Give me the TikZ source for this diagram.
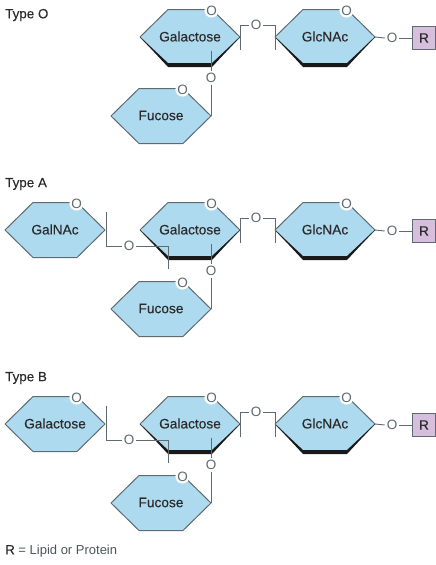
\documentclass[tikz,border=0pt]{standalone}
\usepackage{fontspec}
\setmainfont{Liberation Sans}
\newfontfamily\medfont[FakeBold=0.25]{Liberation Sans}
\usetikzlibrary{calc}
\definecolor{hexblue}{HTML}{AEDAEF}
\definecolor{edgegray}{HTML}{5F6B70}
\definecolor{rpurple}{HTML}{D6BEDC}
\definecolor{inkc}{HTML}{2B2B2B}
\tikzset{
  x=1pt,y=-1pt,
  hexshape/.style={fill=hexblue,draw=edgegray,line width=1pt,line join=round},
  sugar/.style={inner sep=0pt,text=inkc,font=\medfont\fontsize{13.7}{15}\selectfont},
  oxy/.style={circle,fill=white,inner sep=0pt,minimum size=13pt,text=edgegray,font=\fontsize{13.5}{15}\selectfont},
  oxyring/.style={oxy,minimum size=14pt},
  bond/.style={draw=edgegray,line width=0.9pt},
  rbox/.style={fill=rpurple,draw=edgegray,line width=1pt,minimum width=23pt,minimum height=23pt,inner sep=0pt,text=inkc,font=\medfont\fontsize{13.5}{15}\selectfont},
  typelabel/.style={anchor=west,inner sep=0pt,text=inkc,font=\medfont\fontsize{13.4}{15}\selectfont},
  legendlabel/.style={anchor=west,inner sep=0pt,text=edgegray!80!black,font=\fontsize{13}{15}\selectfont},
}
% name, centre x, centre y, text
\newcommand{\hexa}[4]{%
  \coordinate (#1-c) at (#2,#3);
  \coordinate (#1-l) at ($(#1-c)+(-50,0)$);
  \coordinate (#1-r) at ($(#1-c)+(50,0)$);
  \coordinate (#1-tl) at ($(#1-c)+(-22,-27.5)$);
  \coordinate (#1-tr) at ($(#1-c)+(22,-27.5)$);
  \coordinate (#1-bl) at ($(#1-c)+(-22,27.5)$);
  \coordinate (#1-br) at ($(#1-c)+(22,27.5)$);
  \path[hexshape] (#1-l)--(#1-tl)--(#1-tr)--(#1-r)--(#1-br)--(#1-bl)--cycle;
  \node[sugar] (#1) at ($(#1-c)+(0,-0.5)$) {#4};
  \node[oxyring] (#1-o) at ($(#1-c)+(21.5,-26.5)$) {O};
}
% thick lower rim
\newcommand{\rim}[1]{%
  \fill[black!90] (#1-l) -- ($(#1-bl)+(0,-1.5)$) -- ($(#1-br)+(0,-1.5)$) -- (#1-r)
     -- ($(#1-br)+(0,2.5)$) -- ($(#1-bl)+(0,2.5)$) -- cycle;
}
% prefix, vertical offset
\newcommand{\core}[2]{%
  \hexa{#1fuc}{161}{\the\numexpr116+#2\relax}{Fucose}
  \hexa{#1gal}{190}{\the\numexpr37+#2\relax}{Galactose}
  \rim{#1gal}
  \hexa{#1glc}{325}{\the\numexpr37+#2\relax}{GlcNAc}
  \rim{#1glc}
  \node[oxy] (#1o1) at (256,\the\numexpr25+#2\relax) {O};
  \node[oxy] (#1o2) at (392,\the\numexpr38+#2\relax) {O};
  \node[oxy] (#1o3) at (211,\the\numexpr78+#2\relax) {O};
  \node[rbox] (#1r) at (424,\the\numexpr38+#2\relax) {R};
  \coordinate (#1b1) at ($(#1gal-r)+(0,13)$);
  \coordinate (#1b2) at ($(#1glc-l)+(0,13)$);
  \draw[bond] (#1b1) -- ++(0,-25) -- (#1o1.west);
  \draw[bond] (#1o1.east) -- (#1b2 |- #1o1) -- (#1b2);
  \draw[bond] (#1glc-r) -- (#1o2.west);
  \draw[bond] (#1o2.east) -- (#1r.west);
  \coordinate (#1v) at ($(#1gal-br)+(-1,-14)$);
  \draw[bond] (#1v) -- (#1o3.north);
  \draw[bond] (#1o3.south) -- (#1fuc-r);
}
% prefix, vertical offset, donor sugar name
\newcommand{\donor}[3]{%
  \hexa{#1don}{55}{\the\numexpr37+#2\relax}{#3}
  \node[oxy] (#1o4) at (129,\the\numexpr53+#2\relax) {O};
  \coordinate (#1d1) at ($(#1don-r)+(1,-18)$);
  \coordinate (#1d2) at (168,\the\numexpr76+#2\relax);
  \draw[bond] (#1d1) |- (#1o4.west);
  \draw[bond] (#1o4.east) -| (#1d2);
}
\begin{document}
\begin{tikzpicture}
\useasboundingbox (0,0) rectangle (436,565);
\node[typelabel] (ta) at (5,15) {Type O};
\core{a}{0}
\node[typelabel] (tb) at (5,184) {Type A};
\core{b}{193}
\donor{b}{193}{GalNAc}
\node[typelabel] (tc) at (5,378) {Type B};
\core{c}{387}
\donor{c}{387}{Galactose}
\node[legendlabel] (legend) at (5,551) {{\medfont\fontsize{13.4}{15}\selectfont\color{inkc}R} = Lipid or Protein};
\end{tikzpicture}
\end{document}
